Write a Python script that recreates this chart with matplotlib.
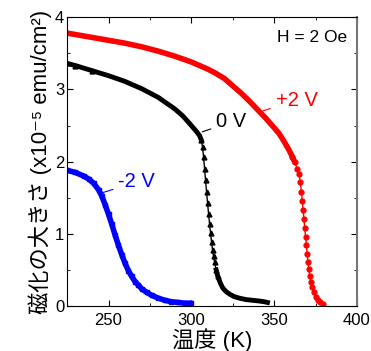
import numpy as np
import matplotlib.pyplot as plt
from matplotlib.ticker import MultipleLocator

plt.rcParams['font.family'] = ['Liberation Sans', 'Noto Sans CJK JP', 'DejaVu Sans']

# +2 V (red circles)
t_p2 = [225, 230, 240, 250, 260, 270, 280, 290, 300, 310, 315, 320, 325, 330, 335,
        340, 345, 350, 353, 356, 359, 361, 362.5, 364, 365, 365.8, 366.5, 367, 367.5,
        368, 368.5, 369, 369.5, 370, 370.5, 371, 371.6, 372.3, 373, 374, 375, 376.5,
        378, 379.7]
m_p2 = [3.78, 3.76, 3.72, 3.68, 3.64, 3.59, 3.53, 3.46, 3.38, 3.28, 3.22, 3.15, 3.05,
        2.95, 2.84, 2.72, 2.6, 2.47, 2.39, 2.28, 2.16, 2.07, 1.99, 1.9, 1.83, 1.72,
        1.58, 1.46, 1.33, 1.2, 1.08, 0.96, 0.84, 0.72, 0.61, 0.51, 0.41, 0.33, 0.26,
        0.19, 0.13, 0.08, 0.05, 0.03]

# 0 V (black triangles)
t_0 = [225, 230, 240, 250, 260, 265, 270, 280, 285, 290, 295, 300, 303, 305, 306,
       306.8, 307.4, 308, 308.6, 309.2, 309.8, 310.4, 311, 311.6, 312.2, 312.8, 313.4,
       314, 315, 316, 317.5, 319, 321, 323.5, 326, 329, 333, 337, 341, 344, 346]
m_0 = [3.36, 3.33, 3.26, 3.19, 3.11, 3.06, 3.01, 2.89, 2.81, 2.73, 2.63, 2.5, 2.42,
       2.36, 2.3, 2.2, 2.06, 1.9, 1.74, 1.58, 1.43, 1.28, 1.14, 1.01, 0.89, 0.78, 0.69,
       0.61, 0.5, 0.41, 0.32, 0.25, 0.2, 0.16, 0.13, 0.11, 0.09, 0.08, 0.07, 0.06, 0.05]

# -2 V (blue squares)
t_m2 = [225, 230, 235, 238, 241, 244, 246, 248, 250, 252, 254, 256, 258, 260, 262,
        264, 266, 268, 270, 273, 276, 280, 284, 288, 292, 296, 300]
m_m2 = [1.88, 1.85, 1.8, 1.76, 1.7, 1.61, 1.52, 1.4, 1.27, 1.13, 0.98, 0.84, 0.71,
        0.59, 0.49, 0.41, 0.34, 0.29, 0.24, 0.19, 0.15, 0.11, 0.08, 0.06, 0.05, 0.04,
        0.04]

fig = plt.figure(figsize=(3.71, 3.51), dpi=100)
ax = fig.add_axes([0.181, 0.128, 0.781, 0.823])

# dense part drawn as thick band, steep part as separate markers
ax.plot(t_p2, m_p2, '-', color='red', lw=1)
ax.plot(t_p2[:23], m_p2[:23], '-', color='red', lw=4, solid_capstyle='round')
ax.plot(t_p2[21:], m_p2[21:], 'o', color='red', ms=3.5)

ax.plot(t_0, m_0, '-', color='black', lw=1)
ax.plot(t_0[:15], m_0[:15], '-', color='black', lw=3.5)
ax.plot(t_0[28:], m_0[28:], '-', color='black', lw=3.5)
ax.plot(t_0[:3], m_0[:3], '^', color='black', ms=3.5)
ax.plot(t_0[14:30], m_0[14:30], '^', color='black', ms=3.5)

ax.plot(t_m2, m_m2, '-', color='blue', lw=4, solid_capstyle='round')
ax.plot(t_m2, m_m2, 's', color='blue', ms=3)

ax.set_xlim(225, 400)
ax.set_ylim(0, 4)
ax.xaxis.set_major_locator(MultipleLocator(50))
ax.xaxis.set_minor_locator(MultipleLocator(25))
ax.yaxis.set_major_locator(MultipleLocator(1))
ax.yaxis.set_minor_locator(MultipleLocator(0.5))
ax.tick_params(which='both', direction='in', top=True, right=True, labelsize=12)
ax.tick_params(which='major', length=4)
ax.tick_params(which='minor', length=2.5)
ax.tick_params(axis='y', pad=2)
ax.tick_params(axis='x', pad=5)
ax.spines['right'].set_color('#777777')
ax.spines['right'].set_linewidth(1.5)

ax.annotate('+2 V', xy=(341.5, 2.69), xytext=(351, 2.85), color='red', fontsize=14.5,
            va='center', arrowprops=dict(arrowstyle='-', color='red', lw=0.8))
ax.annotate('0 V', xy=(305, 2.4), xytext=(315, 2.55), color='black', fontsize=14.5,
            va='center', arrowprops=dict(arrowstyle='-', color='black', lw=0.8))
ax.annotate('-2 V', xy=(245, 1.56), xytext=(256, 1.72), color='blue', fontsize=14.5,
            va='center', arrowprops=dict(arrowstyle='-', color='blue', lw=0.8))
ax.text(0.965, 0.93, 'H = 2 Oe', transform=ax.transAxes, ha='right', va='center',
        fontsize=12.5)

ax.set_xlabel('温度 (K)', fontsize=16, labelpad=0)
ax.set_ylabel('磁化の大きさ (x10⁻⁵ emu/cm²)', fontsize=16, labelpad=2)

fig.savefig('out.png', dpi=100)
